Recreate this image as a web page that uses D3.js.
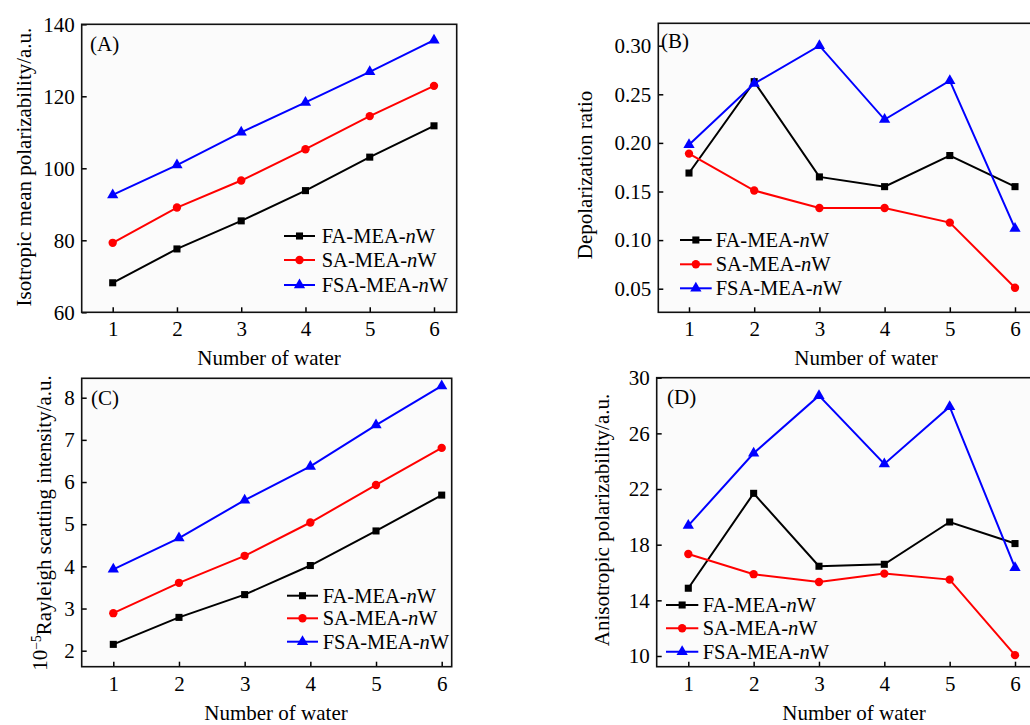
<!DOCTYPE html>
<html><head><meta charset="utf-8">
<script src="https://cdn.jsdelivr.net/npm/d3@7"></script>
<style>
body{margin:0;background:#fff;}
svg{display:block;font-family:"Liberation Serif","Times New Roman",serif;}
</style></head><body>
<svg id="c" width="1030" height="725"></svg>
<script>
const waters = [1, 2, 3, 4, 5, 6];
const seriesNames = ["FA-MEA-", "SA-MEA-", "FSA-MEA-"];
const seriesColors = ["#000000", "#ff0000", "#0000ff"];

// (A) Isotropic mean polarizability
const isoFA  = [68.2, 77.6, 85.4, 93.8, 103.1, 111.8];
const isoSA  = [79.3, 89.1, 96.6, 105.3, 114.5, 122.9];
const isoFSA = [92.6, 100.9, 110.0, 118.3, 126.8, 135.6];
const isoTicks = [60, 80, 100, 120, 140];

// (B) Depolarization ratio
const depFA  = [0.169, 0.263, 0.165, 0.155, 0.187, 0.155];
const depSA  = [0.189, 0.151, 0.133, 0.133, 0.118, 0.051];
const depFSA = [0.198, 0.261, 0.300, 0.224, 0.264, 0.112];
const depTicks = [0.05, 0.10, 0.15, 0.20, 0.25, 0.30];

// (C) Rayleigh scattering intensity (10^-5)
const rayFA  = [2.15, 2.79, 3.33, 4.02, 4.84, 5.69];
const raySA  = [2.89, 3.61, 4.25, 5.04, 5.93, 6.81];
const rayFSA = [3.93, 4.67, 5.57, 6.37, 7.35, 8.28];
const rayTicks = [2, 3, 4, 5, 6, 7, 8];

// (D) Anisotropic polarizability
const aniFA  = [14.87, 21.69, 16.45, 16.59, 19.63, 18.08];
const aniSA  = [17.33, 15.88, 15.32, 15.92, 15.49, 10.06];
const aniFSA = [19.37, 24.57, 28.71, 23.80, 27.92, 16.35];
const aniTicks = [10, 14, 18, 22, 26, 30];

const svg = d3.select("#c");
const FONT = 21;

const panels = [
  {label:"(A)", data:[isoFA, isoSA, isoFSA], ticks:isoTicks, fmt:d3.format("d"),
   frame:{x0:81.7, x1:456.7, y0:24.3, y1:312.3}, xr:[112.7, 434], yd:[60,140], yr:[312.3,24.3],
   ytitle:["Isotropic mean polarizability/a.u."], ytx:24, yty:167, xtx:269, xty:358,
   lab:{x:90, y:51}, leg:{x0:284, x1:315, tx:321.7, y:[236,260,285]}},
  {label:"(B)", data:[depFA, depSA, depFSA], ticks:depTicks, fmt:d3.format(".2f"),
   frame:{x0:658.3, x1:1045, y0:23.3, y1:312.3}, xr:[689, 1015], yd:[0.05,0.30], yr:[288.7,45.7],
   ytitle:["Depolarization ratio"], ytx:585, yty:175, xtx:866, xty:358,
   lab:{x:661, y:48}, leg:{x0:680, x1:711.7, tx:715.7, y:[240,264.3,288.3]}},
  {label:"(C)", data:[rayFA, raySA, rayFSA], ticks:rayTicks, fmt:d3.format("d"),
   frame:{x0:81.7, x1:451.7, y0:378.3, y1:666.7}, xr:[113.3, 441.7], yd:[2,8], yr:[650.7,397.7],
   ytitle:null, ytx:40, yty:523, xtx:276, xty:713,
   lab:{x:91, y:405}, leg:{x0:287, x1:318, tx:322.7, y:[595.7,618.3,641.7]}},
  {label:"(D)", data:[aniFA, aniSA, aniFSA], ticks:aniTicks, fmt:d3.format("d"),
   frame:{x0:656.7, x1:1045, y0:377.7, y1:666.7}, xr:[688.3, 1015], yd:[10,30], yr:[656,377.7],
   ytitle:["Anisotropic polarizability/a.u."], ytx:602, yty:520, xtx:854, xty:713,
   lab:{x:667, y:404}, leg:{x0:666, x1:698.3, tx:702.7, y:[605,628.3,651.7]}}
];

const symbolTypes = [d3.symbolSquare, d3.symbolCircle, d3.symbolTriangle];
const symbolSizes = [50, 55, 55];

panels.forEach(p => {
  const g = svg.append("g");
  const x = d3.scaleLinear().domain([1,6]).range(p.xr);
  const y = d3.scaleLinear().domain(p.yd).range(p.yr);
  const f = p.frame;

  g.append("rect").attr("x", f.x0).attr("y", f.y0)
    .attr("width", f.x1 - f.x0).attr("height", f.y1 - f.y0)
    .attr("fill", "#fbfbfb").attr("stroke", "none");

  const ya = g.append("g").attr("transform", `translate(${f.x0},0)`)
    .call(d3.axisLeft(y).tickValues(p.ticks).tickFormat(p.fmt).tickSizeInner(-5).tickSizeOuter(0).tickPadding(7));
  ya.select(".domain").remove();
  ya.selectAll("line").attr("stroke", "#000").attr("stroke-width", 1.5);
  ya.selectAll("text").attr("font-size", FONT).attr("font-family", "Liberation Serif").attr("fill", "#000");

  const xa = g.append("g").attr("transform", `translate(0,${f.y1})`)
    .call(d3.axisBottom(x).tickValues(waters).tickFormat(d3.format("d")).tickSizeInner(-5).tickSizeOuter(0).tickPadding(9));
  xa.select(".domain").remove();
  xa.selectAll("line").attr("stroke", "#000").attr("stroke-width", 1.5);
  xa.selectAll("text").attr("font-size", FONT).attr("font-family", "Liberation Serif").attr("fill", "#000");

  g.append("rect").attr("x", f.x0).attr("y", f.y0)
    .attr("width", f.x1 - f.x0).attr("height", f.y1 - f.y0)
    .attr("fill", "none").attr("stroke", "#111").attr("stroke-width", 1.6);

  const line = d3.line().x((d,i) => x(waters[i])).y(d => y(d));
  p.data.forEach((vals, si) => {
    g.append("path").datum(vals).attr("d", line)
      .attr("fill", "none").attr("stroke", seriesColors[si]).attr("stroke-width", 2);
    g.selectAll(null).data(vals).enter().append("path")
      .attr("d", d3.symbol().type(symbolTypes[si]).size(symbolSizes[si]))
      .attr("transform", (d,i) => `translate(${x(waters[i])},${y(d)})`)
      .attr("fill", seriesColors[si]);
  });

  seriesNames.forEach((nm, si) => {
    const ly = p.leg.y[si];
    g.append("line").attr("x1", p.leg.x0).attr("x2", p.leg.x1).attr("y1", ly).attr("y2", ly)
      .attr("stroke", seriesColors[si]).attr("stroke-width", 2);
    g.append("path").attr("d", d3.symbol().type(symbolTypes[si]).size(symbolSizes[si]))
      .attr("transform", `translate(${(p.leg.x0 + p.leg.x1)/2},${ly})`).attr("fill", seriesColors[si]);
    const t = g.append("text").attr("x", p.leg.tx).attr("y", ly).attr("dy", "0.35em")
      .attr("font-size", FONT - 0.5).attr("fill", "#000");
    t.append("tspan").text(nm);
    t.append("tspan").attr("font-style", "italic").text("n");
    t.append("tspan").text("W");
  });

  g.append("text").attr("x", p.lab.x).attr("y", p.lab.y).attr("font-size", FONT).text(p.label);

  g.append("text").attr("x", p.xtx).attr("y", p.xty).attr("dy", "0.35em")
    .attr("text-anchor", "middle").attr("font-size", FONT).text("Number of water");

  const yt = g.append("text").attr("transform", `translate(${p.ytx},${p.yty}) rotate(-90)`)
    .attr("dy", "0.35em").attr("text-anchor", "middle").attr("font-size", FONT);
  if (p.ytitle) {
    yt.text(p.ytitle[0]);
  } else {
    yt.append("tspan").text("10");
    yt.append("tspan").attr("dy", "-0.45em").attr("font-size", FONT * 0.65).text("\u22125");
    yt.append("tspan").attr("dy", "0.45em").text("Rayleigh scatting intensity/a.u.");
  }
});
</script>
</body></html>
